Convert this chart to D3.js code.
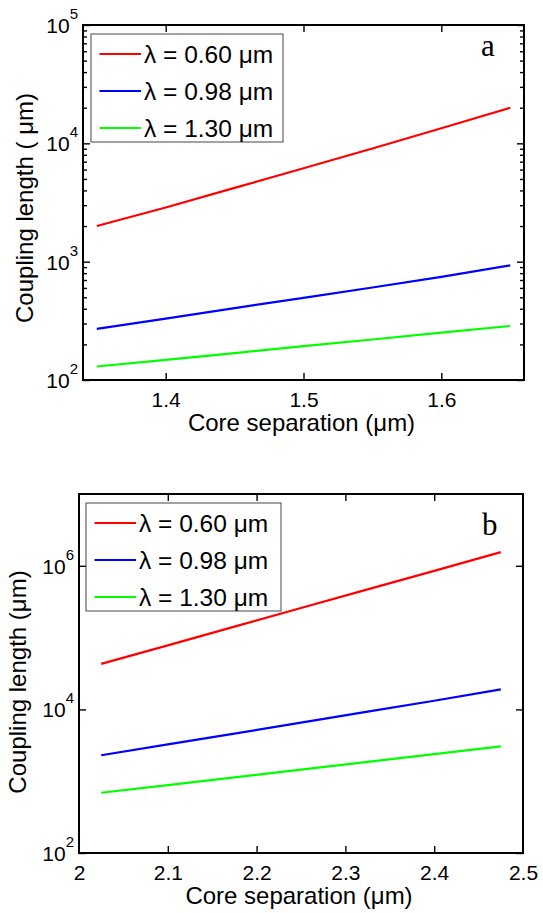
<!DOCTYPE html>
<html>
<head>
<meta charset="utf-8">
<script src="https://cdn.jsdelivr.net/npm/d3@7/dist/d3.min.js"></script>
<style>
  html, body { margin: 0; padding: 0; background: #fff; }
  svg { display: block; }
  text { font-family: "Liberation Sans", Arial, sans-serif; fill: #000; }
  text.letter { font-family: "Liberation Serif", "Times New Roman", serif; }
</style>
</head>
<body>
<svg id="fig" width="543" height="913"></svg>
<script>
// Coupling length vs core separation for three wavelengths (two core geometries)
const seriesNames = ["λ = 0.60 μm", "λ = 0.98 μm", "λ = 1.30 μm"];
const seriesColors = ["#ff0000", "#0000ff", "#00ff00"];

// Panel a
const sepA = [1.35, 1.40, 1.45, 1.50, 1.55, 1.60, 1.65];
const lenA_060 = [2000, 2870, 4200, 6150, 9050, 13400, 20000];
const lenA_098 = [270, 330, 405, 495, 605, 745, 930];
const lenA_130 = [130, 148, 169, 193, 220, 251, 286];
const xTicksA = [1.4, 1.5, 1.6];
const yExpA = [2, 3, 4, 5];

// Panel b
const sepB = [2.025, 2.10, 2.175, 2.25, 2.325, 2.40, 2.475];
const lenB_060 = [43000, 78000, 142000, 258000, 470000, 850000, 1550000];
const lenB_098 = [2300, 3250, 4600, 6550, 9300, 13200, 19000];
const lenB_130 = [690, 880, 1130, 1450, 1860, 2380, 3050];
const xTicksB = [2, 2.1, 2.2, 2.3, 2.4, 2.5];
const yExpB = [2, 4, 6];

const svg = d3.select("#fig");

function drawPanel(p) {
  const g = svg.append("g");
  const x = d3.scaleLinear().domain(p.xDomain).range([p.left, p.right]);
  const y = d3.scaleLog().domain(p.yDomain).range([p.bottom, p.top]);

  // data lines
  const line = d3.line().x(d => x(d[0])).y(d => y(d[1]));
  p.series.forEach((vals, i) => {
    g.append("path")
      .datum(p.sep.map((s, j) => [s, vals[j]]))
      .attr("d", line)
      .attr("fill", "none")
      .attr("stroke", seriesColors[i])
      .attr("stroke-width", 2.2);
  });

  // axes: ticks pointing inward on all four sides
  const major = 7, minor = 4;
  const bottomAxis = d3.axisBottom(x).tickValues(p.xTicks).tickSize(-major).tickFormat(d3.format("")).tickPadding(12);
  const topAxis = d3.axisTop(x).tickValues(p.xTicks).tickSize(-major).tickFormat("");
  const majorY = p.yExp.map(e => Math.pow(10, e));
  const leftAxis = d3.axisLeft(y).tickValues(majorY).tickSize(-major).tickFormat("");
  const rightAxis = d3.axisRight(y).tickValues(majorY).tickSize(-major).tickFormat("");

  g.append("g").attr("transform", `translate(0,${p.bottom})`).call(bottomAxis);
  g.append("g").attr("transform", `translate(0,${p.top})`).call(topAxis);
  g.append("g").attr("transform", `translate(${p.left},0)`).call(leftAxis);
  g.append("g").attr("transform", `translate(${p.right},0)`).call(rightAxis);
  if (p.minorTicks) {
    const minorVals = y.ticks().filter(v => Math.abs(Math.log10(v) - Math.round(Math.log10(v))) > 1e-6);
    g.append("g").attr("transform", `translate(${p.left},0)`)
      .call(d3.axisLeft(y).tickValues(minorVals).tickSize(-minor).tickFormat(""));
    g.append("g").attr("transform", `translate(${p.right},0)`)
      .call(d3.axisRight(y).tickValues(minorVals).tickSize(-minor).tickFormat(""));
  }
  g.selectAll(".domain").remove();
  g.selectAll(".tick line").attr("stroke", "#000").attr("stroke-width", 1.4);
  g.selectAll(".tick text").attr("font-size", 21).attr("fill", "#000");
  // no tick marks drawn on the frame corners
  g.selectAll(".tick").filter(d => Math.abs(x(d) - p.left) < 1 || Math.abs(x(d) - p.right) < 1)
    .select("line").remove();

  // frame
  g.append("rect")
    .attr("x", p.left).attr("y", p.top)
    .attr("width", p.right - p.left).attr("height", p.bottom - p.top)
    .attr("fill", "none").attr("stroke", "#000").attr("stroke-width", 2);

  // y tick labels as 10^k
  p.yExp.forEach(e => {
    const t = g.append("text")
      .attr("x", p.left - 5)
      .attr("y", y(Math.pow(10, e)) + 8)
      .attr("text-anchor", "end")
      .attr("font-size", 21);
    t.append("tspan").text("10");
    t.append("tspan").attr("dy", -14).attr("font-size", 15).text(String(e));
  });

  // axis titles
  g.append("text")
    .attr("x", (p.left + p.right) / 2 + p.xLabelShift)
    .attr("y", p.bottom + 51)
    .attr("text-anchor", "middle")
    .attr("font-size", 24)
    .text("Core separation (μm)");
  g.append("text")
    .attr("transform", `translate(${p.yLabelX},${p.yLabelY}) rotate(-90)`)
    .attr("text-anchor", "middle")
    .attr("font-size", 24)
    .text(p.yLabel);

  // panel letter
  g.append("text")
    .attr("class", "letter")
    .attr("x", p.letterX).attr("y", p.letterY)
    .attr("font-size", 31)
    .text(p.letter);

  // legend
  const lg = g.append("g");
  lg.append("rect")
    .attr("x", p.legX).attr("y", p.legY)
    .attr("width", p.legW).attr("height", p.legH)
    .attr("fill", "#fff").attr("stroke", "#444").attr("stroke-width", 1);
  seriesNames.forEach((name, i) => {
    const yy = p.legY + 20 + i * 37;
    lg.append("line")
      .attr("x1", p.legX + 8.5).attr("x2", p.legX + 50)
      .attr("y1", yy).attr("y2", yy)
      .attr("stroke", seriesColors[i]).attr("stroke-width", 2);
    lg.append("text")
      .attr("x", p.legX + 53).attr("y", yy + 8.5)
      .attr("font-size", 24.5)
      .text(name);
  });
}

drawPanel({
  left: 83, right: 524, top: 25, bottom: 380,
  xDomain: [1.34, 1.66], yDomain: [1e2, 1e5],
  sep: sepA, series: [lenA_060, lenA_098, lenA_130],
  xTicks: xTicksA, yExp: yExpA, minorTicks: true,
  yLabel: "Coupling length ( μm)", yLabelX: 33, yLabelY: 208,
  xLabelShift: -2,
  letter: "a", letterX: 481, letterY: 56,
  legX: 91, legY: 34, legW: 192, legH: 108
});

drawPanel({
  left: 79, right: 523, top: 494, bottom: 853,
  xDomain: [2, 2.5], yDomain: [1e2, 1e7],
  sep: sepB, series: [lenB_060, lenB_098, lenB_130],
  xTicks: xTicksB, yExp: yExpB, minorTicks: false,
  yLabel: "Coupling length (μm)", yLabelX: 26, yLabelY: 682,
  xLabelShift: -2,
  letter: "b", letterX: 482, letterY: 535,
  legX: 86, legY: 503, legW: 195, legH: 108
});
</script>
</body>
</html>
